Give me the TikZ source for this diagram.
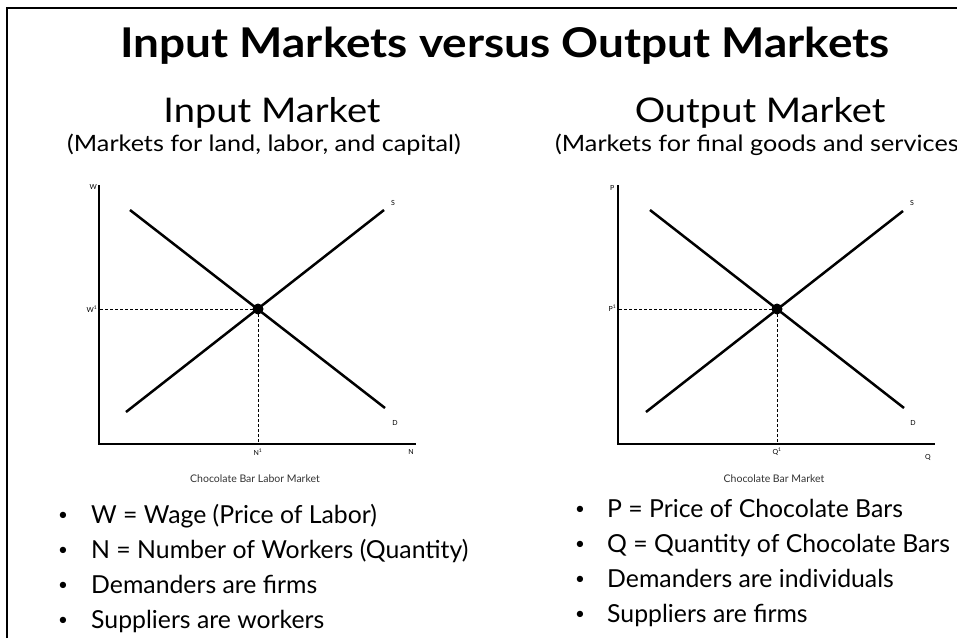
\documentclass[tikz,border=0pt]{standalone}
\usepackage{fontspec}
\setmainfont{Lato}
\newfontfamily\widefont[FakeStretch=1.12]{Lato}
\begin{document}
\begin{tikzpicture}[x=1pt,y=-1pt,
  titlefont/.style={font=\widefont\fontsize{41}{48}\selectfont\bfseries},
  subfont/.style={font=\widefont\fontsize{34}{40}\selectfont},
  parenfont/.style={font=\widefont\fontsize{22.5}{27}\selectfont},
  bulletfont/.style={font=\fontsize{24.8}{28}\selectfont},
  dotfont/.style={font=\fontsize{17}{20}\selectfont},
  axlabel/.style={font=\fontsize{7}{8}\selectfont, inner sep=0pt},
  caption/.style={font=\fontsize{10.5}{12}\selectfont, text=black!80, inner sep=0pt, anchor=base},
  axis/.style={line width=1.5pt},
  curve/.style={line width=2.5pt},
  guide/.style={line width=0.8pt, dash pattern=on 3pt off 2pt},
  eqdot/.style={circle, fill=black, minimum size=11pt, inner sep=0pt},
  txt/.style={inner sep=0pt, anchor=base west},
  bul/.style={dotfont, inner sep=0pt, anchor=base}
]
\useasboundingbox (0,0) rectangle (957,638);
\fill[white] (0,0) rectangle (957,638);
\coordinate (fb) at (7,638);
\coordinate (fc) at (7,8);
\coordinate (fr) at (957,8);
\draw[line width=1.5pt] (fb) -- (fc) -- (fr);

% titles
\node[titlefont, anchor=base, inner sep=0pt] (title) at (505,57) {Input Markets versus Output Markets};
\node[subfont, anchor=base, inner sep=0pt] (inm) at (272,122) {Input Market};
\node[parenfont, anchor=base, inner sep=0pt] (inp) at (264,151) {(Markets for land, labor, and capital)};
\node[subfont, anchor=base, inner sep=0pt] (outm) at (760,122) {Output Market};
\node[parenfont, anchor=base west, inner sep=0pt] (outp) at (555,151) {(Markets for final goods and services};

% ---------- left graph ----------
\coordinate (yt1) at (99,185);
\coordinate (o1) at (99,444);
\coordinate (xe1) at (416,444);
\draw[axis] (yt1) -- (o1) -- (xe1);
\coordinate (d1a) at (130,210);
\coordinate (d1b) at (385,408);
\coordinate (s1a) at (126,412);
\coordinate (s1b) at (384,210);
\draw[curve] (d1a) -- (d1b);
\draw[curve] (s1a) -- (s1b);
\node[eqdot] (e1) at (258,309) {};
\draw[guide] (e1.center) -- (e1.center -| o1);
\draw[guide] (e1.center) -- (e1.center |- o1);
\node[axlabel, anchor=east] (lw) at (97,187) {W};
\node[axlabel, anchor=east] (lw1) at (97.5,309) {W\textsuperscript{1}};
\node[axlabel] (ls1) at (393,203) {S};
\node[axlabel] (ld1) at (395,423) {D};
\node[axlabel] (ln1) at (258,452) {N\textsuperscript{1}};
\node[axlabel] (ln) at (411,452) {N};
\node[caption] (cap1) at (255,482) {Chocolate Bar Labor Market};

% ---------- right graph ----------
\coordinate (yt2) at (618,185);
\coordinate (o2) at (618,444);
\coordinate (xe2) at (935,444);
\draw[axis] (yt2) -- (o2) -- (xe2);
\coordinate (d2a) at (650,210);
\coordinate (d2b) at (904,408);
\coordinate (s2a) at (646,412);
\coordinate (s2b) at (903,211);
\draw[curve] (d2a) -- (d2b);
\draw[curve] (s2a) -- (s2b);
\node[eqdot] (e2) at (777,309) {};
\draw[guide] (e2.center) -- (e2.center -| o2);
\draw[guide] (e2.center) -- (e2.center |- o2);
\node[axlabel, anchor=east] (lp) at (614.5,188) {P};
\node[axlabel, anchor=east] (lp1) at (616.5,308) {P\textsuperscript{1}};
\node[axlabel] (ls2) at (912,203) {S};
\node[axlabel] (ld2) at (913,423) {D};
\node[axlabel] (lq1) at (777,452) {Q\textsuperscript{1}};
\node[axlabel] (lq) at (928,457) {Q};
\node[caption] (cap2) at (774,482) {Chocolate Bar Market};

% ---------- bullets left ----------
\begin{scope}[bulletfont]
\node[bul] (bl1) at (63,520) {•};
\node[txt] (tl1) at (91,523) {W = Wage (Price of Labor)};
\node[bul] (bl2) at (63,555) {•};
\node[txt] (tl2) at (91,558) {N = Number of Workers (Quantity)};
\node[bul] (bl3) at (63,590) {•};
\node[txt] (tl3) at (91,593) {Demanders are firms};
\node[bul] (bl4) at (63,625) {•};
\node[txt] (tl4) at (91,628) {Suppliers are workers};
% ---------- bullets right ----------
\node[bul] (br1) at (580,514) {•};
\node[txt] (tr1) at (607,517) {P = Price of Chocolate Bars};
\node[bul] (br2) at (580,549) {•};
\node[txt] (tr2) at (607,552) {Q = Quantity of Chocolate Bars};
\node[bul] (br3) at (580,584) {•};
\node[txt] (tr3) at (607,587) {Demanders are individuals};
\node[bul] (br4) at (580,619) {•};
\node[txt] (tr4) at (607,622) {Suppliers are firms};
\end{scope}
\end{tikzpicture}
\end{document}
